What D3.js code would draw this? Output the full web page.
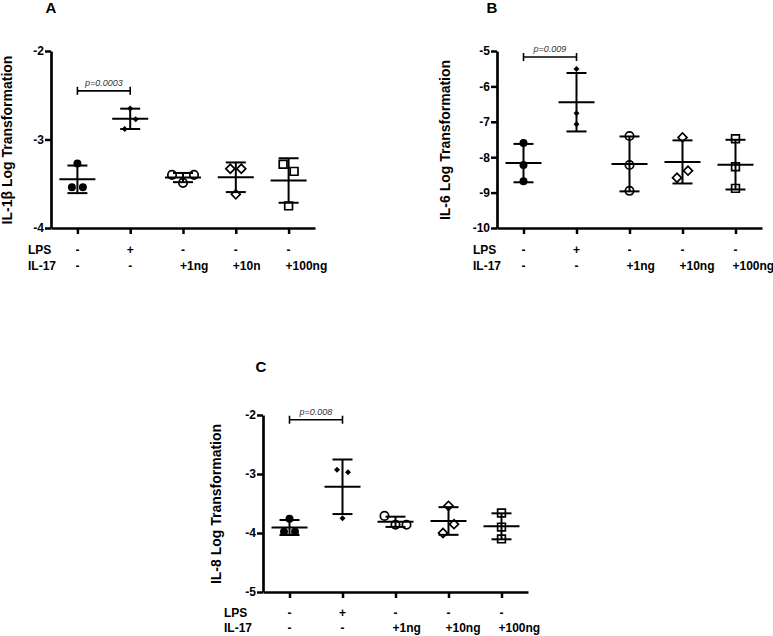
<!DOCTYPE html>
<html>
<head>
<meta charset="utf-8">
<script src="https://cdn.jsdelivr.net/npm/d3@7"></script>
<style>
  body { margin: 0; background: #fff; }
  text { font-family: "Liberation Sans", Arial, sans-serif; }
</style>
</head>
<body>
<main></main>
<script>
// Treatment groups (x categories) and the two label rows under each axis
const categories = ['ctrl', 'LPS', 'IL17-1', 'IL17-10', 'IL17-100'];
const lpsLabels = ['-', '+', '-', '-', '-'];
const il17LabelsA = ['-', '-', '+1ng', '+10n', '+100ng'];
const il17Labels = ['-', '-', '+1ng', '+10ng', '+100ng'];

// Log-transformed values, three replicates per group
const il1bValues = [
    [-3.27, -3.54, -3.54],
    [-2.65, -2.88, -2.77],
    [-3.40, -3.49, -3.40],
    [-3.33, -3.62, -3.33],
    [-3.28, -3.36, -3.75]
];
const il6Values = [
    [-7.60, -8.22, -8.68],
    [-5.51, -6.76, -7.07],
    [-7.40, -8.22, -8.95],
    [-7.44, -8.58, -8.38],
    [-7.48, -8.27, -8.88]
];
const il8Values = [
    [-3.76, -3.98, -3.98],
    [-2.93, -2.97, -3.75],
    [-3.71, -3.86, -3.86],
    [-3.54, -4.00, -3.85],
    [-3.66, -3.90, -4.10]
];

const yTicksA = [-2, -3, -4];
const yTicksB = [-5, -6, -7, -8, -9, -10];
const yTicksC = [-2, -3, -4, -5];

const pLabels = ['p=0.0003', 'p=0.009', 'p=0.008'];
const bracketLevels = [-2.45, -5.17, -2.08];

const width = 773, height = 636;
const svg = d3.select('main').append('svg')
    .attr('width', width)
    .attr('height', height);

// Layout of the three panels
const panels = [
    { title: 'A', yLabel: 'IL-1β Log Transformation', values: il1bValues, il17: il17LabelsA,
      domain: [-4, -2], ticks: yTicksA, left: 51, right: 315, top: 51, bottom: 228,
      titleX: 51, titleY: 13, rowLabelX: 28, row1: 22, row2: 38, yLabelX: 12, p: 0 },
    { title: 'B', yLabel: 'IL-6 Log Transformation', values: il6Values, il17: il17Labels,
      domain: [-10, -5], ticks: yTicksB, left: 497, right: 762, top: 51, bottom: 228,
      titleX: 492, titleY: 13, rowLabelX: 473, row1: 22, row2: 38, yLabelX: 450, p: 1 },
    { title: 'C', yLabel: 'IL-8 Log Transformation', values: il8Values, il17: il17Labels,
      domain: [-5, -2], ticks: yTicksC, left: 263, right: 528, top: 415, bottom: 592,
      titleX: 261, titleY: 372, rowLabelX: 224, row1: 21, row2: 36, yLabelX: 221, p: 2 }
];

const symbolStyles = [
    { type: d3.symbolCircle, size: 50, fill: '#000', rot: 0 },
    { type: d3.symbolSquare, size: 18, fill: '#000', rot: 45 },
    { type: d3.symbolCircle, size: 55, fill: 'none', rot: 0 },
    { type: d3.symbolSquare, size: 40, fill: 'none', rot: 45 },
    { type: d3.symbolSquare, size: 60, fill: 'none', rot: 0 }
];

// spread points that would overlap vertically (simple column scatter)
function jitter(vals, y) {
    const px = vals.map(v => y(v));
    const order = d3.range(vals.length).sort((a, b) => px[a] - px[b]);
    const clusters = [];
    let cur = [order[0]];
    for (let i = 1; i < order.length; i++) {
        if (px[order[i]] - px[order[i - 1]] < 10) cur.push(order[i]);
        else { clusters.push(cur); cur = [order[i]]; }
    }
    clusters.push(cur);
    const offs = new Array(vals.length).fill(0);
    clusters.forEach(c => {
        c.sort((a, b) => a - b);
        c.forEach((k, i) => { offs[k] = (i - (c.length - 1) / 2) * 11; });
    });
    return offs;
}

panels.forEach(p => {
    const g = svg.append('g');
    const x = d3.scalePoint().domain(categories).range([p.left, p.right]).padding(0.5);
    const y = d3.scaleLinear().domain(p.domain).range([p.bottom, p.top]);

    // y axis (plain hyphen for negative numbers, as in the figure)
    const yAxis = g.append('g')
        .attr('transform', `translate(${p.left},0)`)
        .call(d3.axisLeft(y).tickValues(p.ticks).tickFormat(d => String(d))
            .tickSize(6).tickSizeOuter(0).tickPadding(1));
    yAxis.select('.domain').attr('stroke-width', 2.7);
    yAxis.selectAll('.tick line').attr('stroke-width', 2.5);
    yAxis.selectAll('.tick text')
        .attr('font-size', 12).attr('font-weight', 'bold').attr('fill', '#000')
        .attr('font-family', '"Liberation Sans", Arial, sans-serif');

    // x axis
    const xAxis = g.append('g')
        .attr('transform', `translate(0,${p.bottom})`)
        .call(d3.axisBottom(x).tickFormat('').tickSize(6).tickSizeOuter(0));
    xAxis.select('.domain').attr('stroke-width', 2.7);
    xAxis.selectAll('.tick line').attr('stroke-width', 2.5);

    // panel letter
    g.append('text')
        .attr('x', p.titleX).attr('y', p.titleY)
        .attr('text-anchor', 'middle')
        .attr('font-size', 15).attr('font-weight', 'bold')
        .text(p.title);

    // y axis title
    g.append('text')
        .attr('transform', `translate(${p.yLabelX},${(p.top + p.bottom) / 2 + 0.5}) rotate(-90)`)
        .attr('text-anchor', 'middle')
        .attr('font-size', 14).attr('font-weight', 'bold')
        .text(p.yLabel);

    // treatment rows
    const r1 = p.bottom + p.row1 + 4, r2 = p.bottom + p.row2 + 4;
    g.append('text').attr('x', p.rowLabelX).attr('y', r1)
        .attr('font-size', 12).attr('font-weight', 'bold').text('LPS');
    g.append('text').attr('x', p.rowLabelX).attr('y', r2)
        .attr('font-size', 12).attr('font-weight', 'bold').text('IL-17');
    categories.forEach((c, i) => {
        g.append('text').attr('x', x(c)).attr('y', r1)
            .attr('text-anchor', 'middle')
            .attr('font-size', 12).attr('font-weight', 'bold').text(lpsLabels[i]);
        const lab = p.il17[i];
        g.append('text').attr('x', lab === '-' ? x(c) : x(c) - 3).attr('y', r2)
            .attr('text-anchor', lab === '-' ? 'middle' : 'start')
            .attr('font-size', 12).attr('font-weight', 'bold').text(lab);
    });

    // mean +/- SD bars and points
    p.values.forEach((vals, i) => {
        const cx = x(categories[i]);
        const m = d3.mean(vals), sd = d3.deviation(vals);
        const bars = g.append('g').attr('stroke', '#000').attr('stroke-width', 2);
        bars.append('line').attr('x1', cx).attr('x2', cx).attr('y1', y(m + sd)).attr('y2', y(m - sd));
        bars.append('line').attr('x1', cx - 10).attr('x2', cx + 10).attr('y1', y(m + sd)).attr('y2', y(m + sd));
        bars.append('line').attr('x1', cx - 10).attr('x2', cx + 10).attr('y1', y(m - sd)).attr('y2', y(m - sd));
        bars.append('line').attr('x1', cx - 18).attr('x2', cx + 18).attr('y1', y(m)).attr('y2', y(m));

        const st = symbolStyles[i];
        const offs = jitter(vals, y);
        g.selectAll(null)
            .data(vals)
            .enter()
            .append('path')
            .attr('d', d3.symbol().type(st.type).size(st.size))
            .attr('transform', (d, k) => `translate(${cx + offs[k]},${y(d)}) rotate(${st.rot})`)
            .attr('fill', st.fill)
            .attr('stroke', '#000')
            .attr('stroke-width', st.fill === 'none' ? 1.7 : 0);
    });

    // significance bracket between control and LPS
    const by = y(bracketLevels[p.p]);
    const x0 = x(categories[0]), x1 = x(categories[1]);
    const br = g.append('g').attr('stroke', '#000').attr('stroke-width', 1.6);
    br.append('line').attr('x1', x0).attr('x2', x1).attr('y1', by).attr('y2', by);
    br.append('line').attr('x1', x0).attr('x2', x0).attr('y1', by - 4).attr('y2', by + 4);
    br.append('line').attr('x1', x1).attr('x2', x1).attr('y1', by - 4).attr('y2', by + 4);
    g.append('text')
        .attr('x', (x0 + x1) / 2).attr('y', by - 5)
        .attr('text-anchor', 'middle')
        .attr('font-size', 9).attr('font-style', 'italic').attr('fill', '#333')
        .text(pLabels[p.p]);
});
</script>
</body>
</html>
